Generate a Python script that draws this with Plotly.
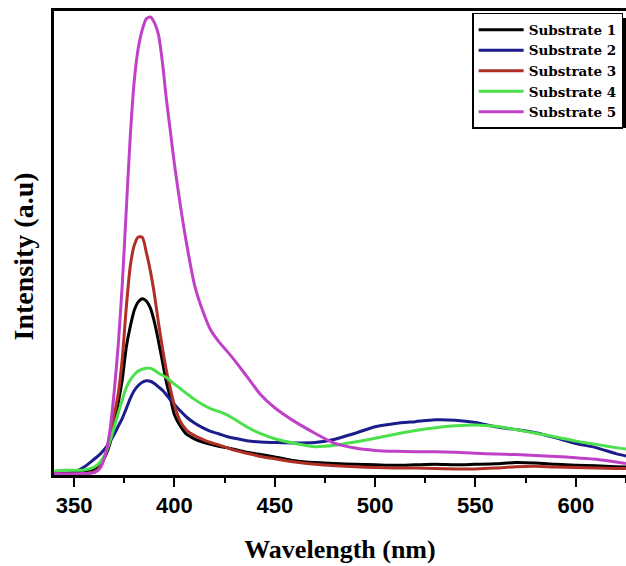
import plotly.graph_objects as go

wavelength = [340, 345, 350, 355, 360, 363, 366, 368, 370, 372, 374, 376, 378, 380, 382, 384, 386, 388,
              390, 392, 394, 396, 398, 400, 403, 406, 410, 414, 418, 422, 426, 430, 436, 443, 450, 460, 470,
              480, 490, 500, 510, 520, 530, 540, 550, 560, 570, 580, 590, 600, 610, 620, 625]

substrate1 = [0.5, 0.4, 0.4, 0.8, 1.3, 2.2, 4.5, 7, 11, 15.5, 20.5, 27.5, 32, 35.5, 37.3, 38, 37.5, 36,
              33, 29, 24.5, 20, 16.5, 13, 10.5, 8.8, 7.8, 7.1, 6.6, 6.2, 5.9, 5.5, 4.9, 4.4, 3.9, 3.1, 2.7,
              2.5, 2.3, 2.2, 2.1, 2.2, 2.3, 2.2, 2.3, 2.4, 2.7, 2.6, 2.3, 2.1, 2.0, 1.8, 1.7]

substrate2 = [0.4, 0.3, 0.6, 1.7, 3.4, 4.5, 6, 7.3, 8.8, 10.5, 12.2, 14.3, 16.5, 18.2, 19.3, 20, 20.3, 20.2,
              19.7, 19, 18.3, 17.3, 16.2, 15.2, 13.8, 12.5, 11.2, 10.2, 9.4, 8.9, 8.3, 7.9, 7.4, 7.1, 7.0, 6.9, 7.0,
              7.7, 9, 10.4, 11.1, 11.5, 11.9, 11.8, 11.3, 10.4, 9.8, 9.1, 8.0, 6.8, 5.9, 4.6, 4.1]

substrate3 = [0.3, 0.2, 0.2, 0.3, 0.6, 1.8, 5, 9, 13, 17.5, 25, 36, 45, 49.5, 51.3, 51.2, 48, 44,
              39, 33, 27.5, 22.5, 18.5, 15, 11.5, 9.7, 8.5, 7.7, 7, 6.5, 5.9, 5.3, 4.7, 4.0, 3.5, 2.8, 2.3,
              2.0, 1.8, 1.6, 1.5, 1.5, 1.4, 1.3, 1.3, 1.5, 1.8, 1.9, 1.7, 1.6, 1.5, 1.4, 1.4]

substrate4 = [0.8, 1.0, 1.0, 1.1, 1.7, 2.8, 5, 7.5, 10.3, 13.3, 16.2, 18.8, 20.5, 21.6, 22.4, 22.8, 23, 23,
              22.6, 22.0, 21.5, 21, 20.3, 19.6, 18.6, 17.6, 16.3, 15.2, 14.3, 13.7, 13.0, 12.0, 10.4, 8.9, 7.8, 6.8, 6.1,
              6.4, 7.1, 7.9, 8.8, 9.6, 10.2, 10.6, 10.8, 10.5, 9.8, 9.0, 8.2, 7.3, 6.6, 5.9, 5.6]

substrate5 = [0.3, 0.2, 0.2, 0.3, 0.5, 1.5, 5, 10, 18, 28, 41, 57, 73, 85, 92, 96, 98.3, 98.7,
              97.5, 95, 89, 81, 74, 67, 58, 50, 41, 35.5, 31.3, 28.8, 26.8, 24.7, 21.3, 17.3, 14.5, 11.5, 9,
              6.8, 5.8, 5.3, 5.1, 5.0, 5.0, 4.9, 4.7, 4.5, 4.4, 4.2, 4.0, 3.7, 3.4, 2.8, 2.5]

names = ["Substrate 1", "Substrate 2", "Substrate 3", "Substrate 4", "Substrate 5"]
colors = ["#000000", "#1c1c8a", "#b03028", "#4ce04c", "#c040c8"]
series = [substrate1, substrate2, substrate3, substrate4, substrate5]

fig = go.Figure()
for name, color, vals in zip(names, colors, series):
    fig.add_trace(go.Scatter(x=wavelength, y=vals, mode="lines", name=name,
                             line=dict(color=color, width=3, shape="spline", smoothing=0.7)))

serif = "Liberation Serif"

fig.update_layout(
    width=626, height=566,
    margin=dict(l=54, r=0, t=11, b=91),
    paper_bgcolor="white", plot_bgcolor="white",
    showlegend=True,
    legend=dict(x=0.731, y=0.996, xanchor="left", yanchor="top",
                bgcolor="white", bordercolor="black", borderwidth=1.5,
                font=dict(family="DejaVu Serif", size=13.5, color="black", weight="bold"),
                itemwidth=45, tracegroupgap=0),
    shapes=[dict(type="rect", xref="paper", yref="paper", x0=0.9, x1=1.01, y0=0.748, y1=0.985,
                 fillcolor="black", line=dict(width=0), layer="below")],
    annotations=[dict(text="Intensity (a.u)", textangle=-90, xref="paper", yref="paper",
                      x=-0.0533, y=0.47, xanchor="center", yanchor="middle", showarrow=False,
                      font=dict(family=serif, size=28, color="black", weight="bold"))],
    xaxis=dict(range=[340, 625], tick0=350, dtick=50, ticks="outside", ticklen=9, tickwidth=2,
               tickcolor="black", showline=True, linewidth=2.5, linecolor="black", mirror=True,
               showgrid=False, zeroline=False,
               tickfont=dict(family="Liberation Sans", size=22, color="black", weight="bold"),
               minor=dict(dtick=25, tick0=350, ticks="outside", ticklen=5, tickwidth=2, tickcolor="black"),
               title=dict(text="Wavelength (nm)", standoff=23,
                          font=dict(family=serif, size=26, color="black", weight="bold"))),
    yaxis=dict(range=[0, 100], showticklabels=False, ticks="", showline=True, linewidth=2.5,
               linecolor="black", showgrid=False, zeroline=False),
)

fig.write_html("out.html")
